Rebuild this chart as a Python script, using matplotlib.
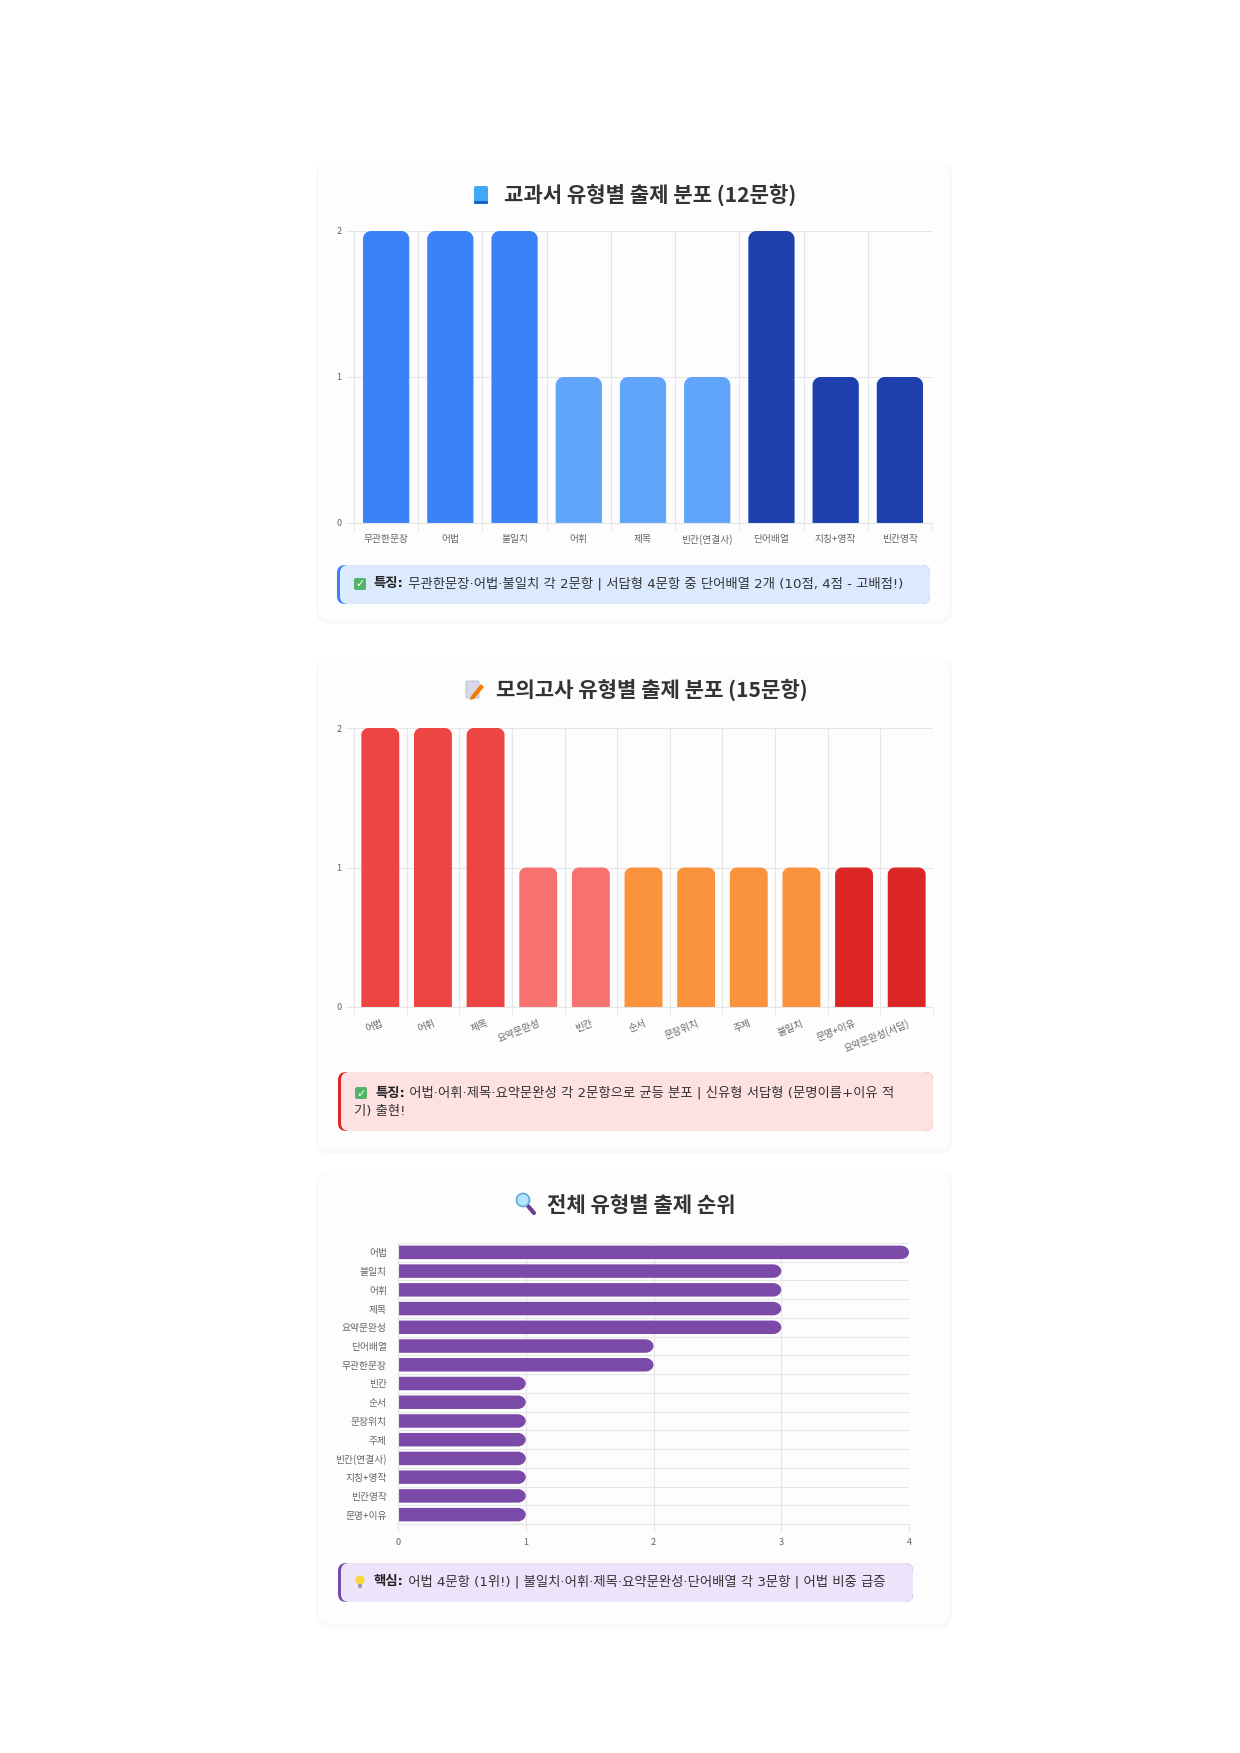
import numpy as np
import matplotlib
matplotlib.use('Agg')
import matplotlib.pyplot as plt
from matplotlib.patches import FancyBboxPatch, PathPatch, Circle, Polygon
from matplotlib.path import Path

plt.rcParams['font.family'] = ['Noto Sans CJK KR', 'DejaVu Sans']

# 교과서 유형별 데이터
tb_labels = ['무관한문장', '어법', '불일치', '어휘', '제목', '빈칸(연결사)', '단어배열', '지칭+영작', '빈칸영작']
tb_values = [2, 2, 2, 1, 1, 1, 2, 1, 1]
tb_colors = ['#3b82f6'] * 3 + ['#60a5fa'] * 3 + ['#1e40af'] * 3

# 모의고사 유형별 데이터
mock_labels = ['어법', '어휘', '제목', '요약문완성', '빈칸', '순서', '문장위치', '주제', '불일치',
               '문명+이유', '요약문완성(서답)']
mock_values = [2, 2, 2, 1, 1, 1, 1, 1, 1, 1, 1]
mock_colors = ['#ef4444'] * 3 + ['#f87171'] * 2 + ['#fb923c'] * 4 + ['#dc2626'] * 2

# 전체 순위 데이터
rank_labels = ['어법', '불일치', '어휘', '제목', '요약문완성', '단어배열', '무관한문장', '빈칸', '순서',
               '문장위치', '주제', '빈칸(연결사)', '지칭+영작', '빈칸영작', '문명+이유']
rank_values = [4, 3, 3, 3, 3, 2, 2, 1, 1, 1, 1, 1, 1, 1, 1]
rank_color = '#7b4aa8'

W, H = 1240, 1753
GRID = '#e6e6e6'
TICK = '#666666'
TEXT = '#333333'
BODY_FONT = ['DejaVu Sans', 'Noto Sans CJK KR']
K = 0.5523

fig = plt.figure(figsize=(W / 100, H / 100), dpi=100)
bg = fig.add_axes([0, 0, 1, 1], zorder=0)
bg.set_xlim(0, W)
bg.set_ylim(H, 0)
bg.axis('off')


def px_axes(box):
    l, t, r, b = box
    ax = fig.add_axes([l / W, 1 - b / H, (r - l) / W, (b - t) / H], zorder=2)
    ax.patch.set_alpha(0)
    return ax


def scale(ax, box):
    l, t, r, b = box
    x0, x1 = ax.get_xlim()
    y0, y1 = ax.get_ylim()
    return (r - l) / abs(x1 - x0), (b - t) / abs(y1 - y0)


def round_top(ax, bars, r_px, box):
    sx, sy = scale(ax, box)
    for bar in bars:
        x0, w, h = bar.get_x(), bar.get_width(), bar.get_height()
        x1 = x0 + w
        rx = min(r_px / sx, w / 2)
        ry = min(r_px / sy, h)
        verts = [(x0, 0), (x0, h - ry), (x0, h - ry + K * ry), (x0 + rx - K * rx, h), (x0 + rx, h),
                 (x1 - rx, h), (x1 - rx + K * rx, h), (x1, h - ry + K * ry), (x1, h - ry),
                 (x1, 0), (x0, 0)]
        codes = [Path.MOVETO, Path.LINETO, Path.CURVE4, Path.CURVE4, Path.CURVE4, Path.LINETO,
                 Path.CURVE4, Path.CURVE4, Path.CURVE4, Path.LINETO, Path.CLOSEPOLY]
        ax.add_patch(PathPatch(Path(verts, codes), facecolor=bar.get_facecolor(),
                               edgecolor='none', zorder=2))
        bar.set_visible(False)


def round_right(ax, bars, r_px, box):
    sx, sy = scale(ax, box)
    for bar in bars:
        y0, hh, w = bar.get_y(), bar.get_height(), bar.get_width()
        y1 = y0 + hh
        rx = min(r_px / sx, w)
        ry = min(r_px / sy, hh / 2)
        verts = [(0, y0), (w - rx, y0), (w - rx + K * rx, y0), (w, y0 + ry - K * ry), (w, y0 + ry),
                 (w, y1 - ry), (w, y1 - ry + K * ry), (w - rx + K * rx, y1), (w - rx, y1),
                 (0, y1), (0, y0)]
        codes = [Path.MOVETO, Path.LINETO, Path.CURVE4, Path.CURVE4, Path.CURVE4, Path.LINETO,
                 Path.CURVE4, Path.CURVE4, Path.CURVE4, Path.LINETO, Path.CLOSEPOLY]
        ax.add_patch(PathPatch(Path(verts, codes), facecolor=bar.get_facecolor(),
                               edgecolor='none', zorder=2))
        bar.set_visible(False)


def style_vertical(ax, labels):
    n = len(labels)
    ax.set_xlim(-0.5, n - 0.5)
    ax.set_ylim(0, 2)
    ax.set_yticks([0, 1, 2])
    ax.set_xticks(np.arange(n))
    ax.set_xticklabels(labels)
    ax.set_xticks(np.arange(n + 1) - 0.5, minor=True)
    ax.grid(True, axis='y', color=GRID, lw=0.8)
    ax.grid(True, axis='x', which='minor', color=GRID, lw=0.8)
    ax.tick_params(axis='x', which='major', length=0, pad=8, labelsize=7, labelcolor=TICK)
    ax.tick_params(axis='x', which='minor', length=6, color=GRID)
    ax.tick_params(axis='y', length=6, color=GRID, labelsize=6.5, labelcolor=TICK, pad=3)
    for s in ['top', 'right']:
        ax.spines[s].set_visible(False)
    for s in ['left', 'bottom']:
        ax.spines[s].set_color(GRID)
    ax.set_axisbelow(True)


def card(t, b, l=318, r=950):
    bg.add_patch(FancyBboxPatch((l - 2, t - 1), r - l + 4, b - t + 5,
                                boxstyle='round,pad=0,rounding_size=14',
                                facecolor='#f9f9f9', edgecolor='none', zorder=0))
    bg.add_patch(FancyBboxPatch((l, t), r - l, b - t, boxstyle='round,pad=0,rounding_size=12',
                                facecolor='#fdfdfd', edgecolor='none', zorder=1))


def note(l, t, r, b, fill, border):
    bg.add_patch(FancyBboxPatch((l, t), r - l, b - t, boxstyle='round,pad=0,rounding_size=8',
                                facecolor=border, edgecolor='none', zorder=2))
    bg.add_patch(FancyBboxPatch((l + 3, t), r - l - 3, b - t, boxstyle='round,pad=0,rounding_size=8',
                                facecolor=fill, edgecolor='none', zorder=3))


def note_text(x, y, head, body, size=9.6):
    t1 = bg.text(x, y, head, fontsize=size, weight='bold', color='#222222', va='center',
                 ha='left', zorder=5, family=BODY_FONT)
    bg.annotate(body, xy=(1, 0), xycoords=t1, va='bottom', ha='left', fontsize=size,
                color=TEXT, zorder=5, family=BODY_FONT)


def check_icon(x, y):
    bg.add_patch(FancyBboxPatch((x - 6, y - 6), 12, 12, boxstyle='round,pad=0,rounding_size=2',
                                facecolor='#52b36b', edgecolor='none', zorder=5))
    bg.text(x, y + 0.5, '✓', family='DejaVu Sans', fontsize=8, weight='bold', color='white',
            ha='center', va='center', zorder=6)


# ---------- 카드 배경 ----------
card(162, 620)
card(658, 1150)
card(1172, 1624)

# ---------- 1. 교과서 ----------
box1 = (354, 231, 932, 523)
ax1 = px_axes(box1)
style_vertical(ax1, tb_labels)
bars = ax1.bar(np.arange(len(tb_values)), tb_values, width=0.72, color=tb_colors)
round_top(ax1, bars, 8, box1)

bg.text(650, 195, '교과서 유형별 출제 분포 (12문항)', fontsize=15.2, weight='bold', color=TEXT,
        ha='center', va='center', zorder=5)
# 📘 아이콘
bg.add_patch(FancyBboxPatch((474, 186), 14, 18, boxstyle='round,pad=0,rounding_size=2',
                            facecolor='#3fa9f5', edgecolor='none', zorder=5))
bg.add_patch(FancyBboxPatch((474, 201), 14, 3, boxstyle='round,pad=0,rounding_size=1',
                            facecolor='#1565c0', edgecolor='none', zorder=6))

note(337, 565, 930, 604, '#dbeafe', '#3b82f6')
check_icon(360, 584)
note_text(374, 584, '특징:', ' 무관한문장·어법·불일치 각 2문항 | 서답형 4문항 중 단어배열 2개 (10점, 4점 - 고배점!)')

# ---------- 2. 모의고사 ----------
box2 = (354, 728, 933, 1007)
ax2 = px_axes(box2)
style_vertical(ax2, mock_labels)
ax2.tick_params(axis='x', which='major', pad=8)
for lab in ax2.get_xticklabels():
    lab.set_rotation(22)
    lab.set_ha('right')
    lab.set_rotation_mode('anchor')
bars = ax2.bar(np.arange(len(mock_values)), mock_values, width=0.72, color=mock_colors)
round_top(ax2, bars, 7, box2)

bg.text(652, 690, '모의고사 유형별 출제 분포 (15문항)', fontsize=15.2, weight='bold', color=TEXT,
        ha='center', va='center', zorder=5)
# 📝 아이콘
bg.add_patch(FancyBboxPatch((466, 681), 13, 17, boxstyle='round,pad=0,rounding_size=1.5',
                            facecolor='#d9d9e6', edgecolor='#b8b8cc', lw=0.6, zorder=5))
bg.add_patch(Polygon([(471, 696), (481, 684), (484, 687), (474, 699), (470, 700)],
                     closed=True, facecolor='#f57c00', edgecolor='none', zorder=6))

note(338, 1072, 933, 1131, '#fee2e2', '#dc2626')
check_icon(361, 1093)
note_text(375, 1093, '특징:', ' 어법·어휘·제목·요약문완성 각 2문항으로 균등 분포 | 신유형 서답형 (문명이름+이유 적')
bg.text(354, 1112, '기) 출현!', fontsize=9.6, color=TEXT, ha='left', va='center', zorder=5,
        family=BODY_FONT)

# ---------- 3. 전체 순위 ----------
box3 = (398, 1243, 909, 1524)
ax3 = px_axes(box3)
n3 = len(rank_values)
bars = ax3.barh(np.arange(n3), rank_values, height=0.72, color=rank_color)
ax3.set_xlim(0, 4)
ax3.set_ylim(n3 - 0.5, -0.5)
ax3.set_xticks([0, 1, 2, 3, 4])
ax3.set_yticks(np.arange(n3))
ax3.set_yticklabels(rank_labels)
ax3.set_yticks(np.arange(n3 + 1) - 0.5, minor=True)
ax3.grid(True, axis='x', color=GRID, lw=0.8)
ax3.grid(True, axis='y', which='minor', color=GRID, lw=0.8)
ax3.tick_params(axis='y', which='major', length=0, pad=8, labelsize=7, labelcolor=TICK)
ax3.tick_params(axis='y', which='minor', length=0)
ax3.tick_params(axis='x', length=6, color=GRID, labelsize=6.5, labelcolor=TICK, pad=4)
for s in ['top', 'right']:
    ax3.spines[s].set_visible(False)
for s in ['left', 'bottom']:
    ax3.spines[s].set_color(GRID)
ax3.set_axisbelow(True)
round_right(ax3, bars, 8, box3)

bg.text(641, 1205, '전체 유형별 출제 순위', fontsize=15.2, weight='bold', color=TEXT,
        ha='center', va='center', zorder=5)
# 🔍 아이콘
bg.plot([528, 534], [1206, 1213], color='#6a3d8f', lw=3, solid_capstyle='round', zorder=5)
bg.add_patch(Circle((523, 1200), 6.5, facecolor='#b3e5fc', edgecolor='#5aa9d6', lw=1.2, zorder=6))

note(338, 1563, 913, 1602, '#ede4fb', '#7b4aa8')
# 💡 아이콘
bg.add_patch(Circle((360, 1580), 4.5, facecolor='#fdd835', edgecolor='none', zorder=5))
bg.add_patch(FancyBboxPatch((358, 1584), 4, 4, boxstyle='round,pad=0,rounding_size=1',
                            facecolor='#9e9e9e', edgecolor='none', zorder=5))
note_text(374, 1582, '핵심:', ' 어법 4문항 (1위!) | 불일치·어휘·제목·요약문완성·단어배열 각 3문항 | 어법 비중 급증')

fig.savefig('out.png', dpi=100, facecolor='white')
